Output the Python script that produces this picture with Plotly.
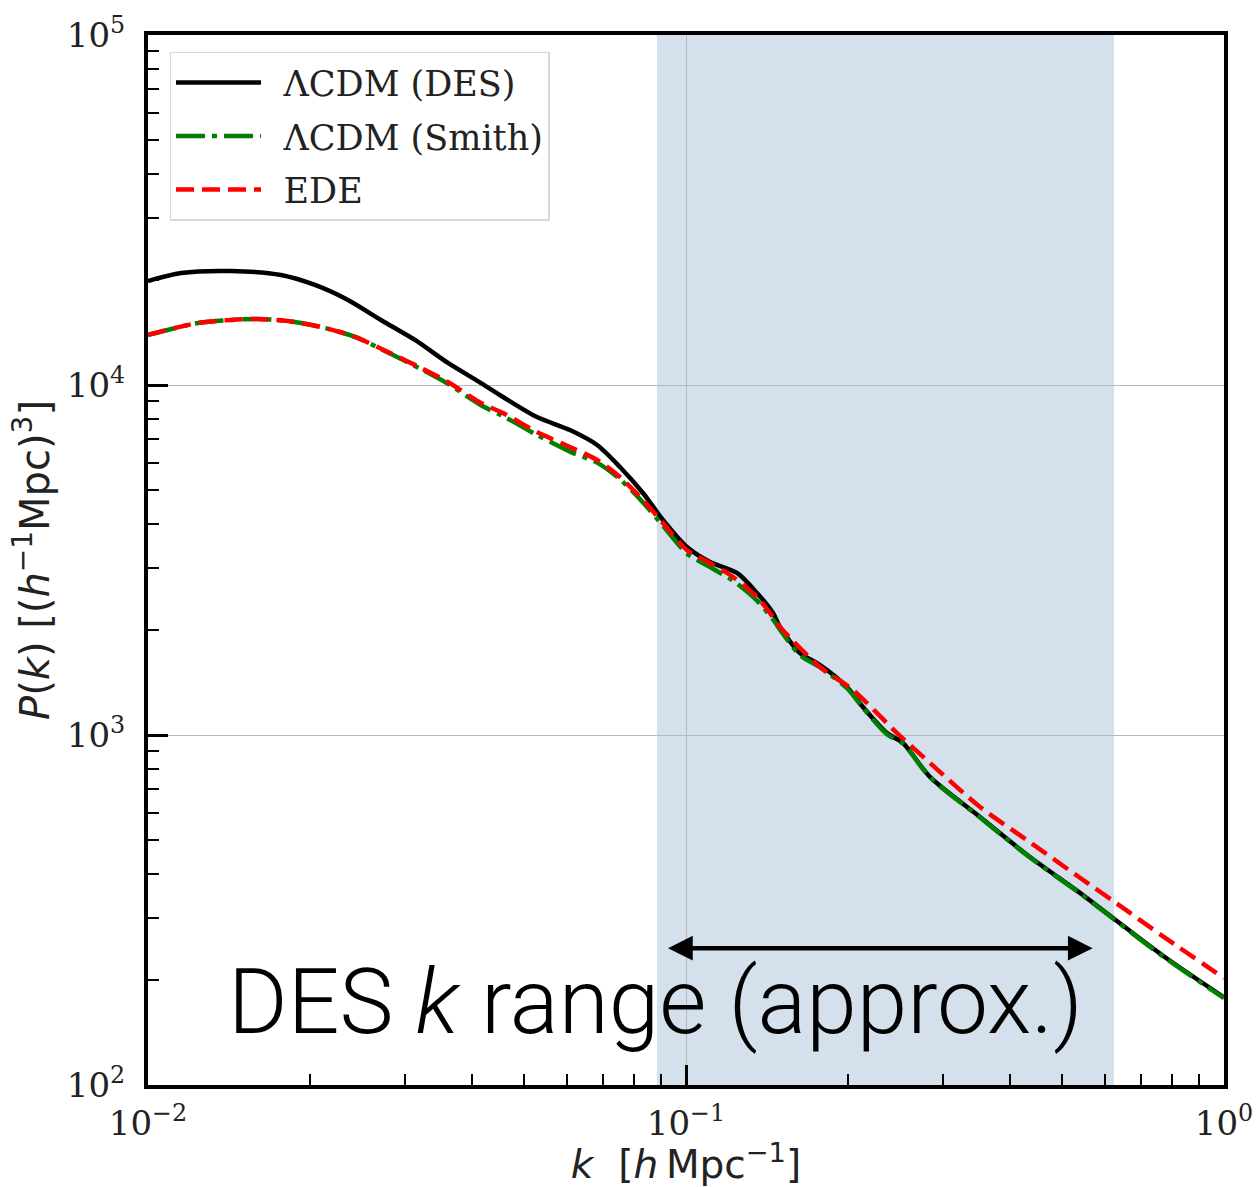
import numpy as np
import plotly.graph_objects as go

# Nonlinear matter power spectrum P(k) in (h^-1 Mpc)^3 versus k in h Mpc^-1
k_des = [0.0100, 0.01152, 0.01427, 0.01767, 0.02043, 0.02353, 0.02710, 0.03135,
         0.03610, 0.04159, 0.04570, 0.05284, 0.06086, 0.06834, 0.07537, 0.08318,
         0.09061, 0.1004, 0.1108, 0.1244, 0.1355, 0.1451, 0.1495, 0.1629, 0.1775,
         0.1992, 0.2133, 0.2363, 0.2531, 0.2841, 0.3520, 0.4358, 0.5398, 0.6218,
         0.7701, 1.0]
p_des = [19820, 20890, 21170, 20620, 19310, 17500, 15340, 13450,
         11560, 10130, 9240, 8101, 7435, 6740, 5832, 4914,
         4115, 3444, 3121, 2904, 2545, 2232, 2035, 1715, 1585,
         1371, 1202, 1013, 949, 759, 583, 448, 354, 300,
         234, 178]

k_smith = [0.0100, 0.01239, 0.01427, 0.01601, 0.01820, 0.02097, 0.02426, 0.02793,
           0.03217, 0.03610, 0.04159, 0.04570, 0.05284, 0.06086, 0.06834, 0.07537,
           0.08318, 0.09061, 0.1004, 0.1108, 0.1223, 0.1355, 0.1451, 0.1495, 0.1629,
           0.1775, 0.1992, 0.2133, 0.2363, 0.2531, 0.2841, 0.3520, 0.4358, 0.5398,
           0.6218, 0.7701, 1.0]
p_smith = [13900, 15040, 15340, 15440, 15230, 14640, 13720, 12380,
           11100, 10080, 8750, 8150, 7200, 6450, 6000, 5380,
           4620, 3960, 3300, 3020, 2760, 2420, 2140, 2000, 1690,
           1560, 1360, 1195, 1005, 945, 757, 581, 447, 353,
           299, 233, 177]

k_ede = [0.0100, 0.01239, 0.01427, 0.01601, 0.01820, 0.02097, 0.02426, 0.02793,
         0.03217, 0.03610, 0.04159, 0.04570, 0.05284, 0.06086, 0.06834, 0.07537,
         0.08318, 0.09061, 0.1004, 0.1108, 0.1223, 0.1355, 0.1451, 0.1495, 0.1775,
         0.2043, 0.2467, 0.2841, 0.3520, 0.4358, 0.5398, 0.6218, 0.7701, 1.0]
p_ede = [13900, 15040, 15340, 15440, 15230, 14640, 13720, 12430,
         11180, 10200, 8883, 8318, 7338, 6652, 6106, 5460,
         4692, 4035, 3378, 3100, 2828, 2480, 2173, 2035, 1564,
         1345, 1013, 832, 623, 494, 391, 336, 266, 202]

# Approximate DES k range (shaded band and arrow)
des_band = [0.0883, 0.6245]
des_arrow = [0.092, 0.57]
arrow_level = 246

x_major = [1e-2, 1e-1, 1e0]
x_major_text = ["10<sup>−2</sup>", "10<sup>−1</sup>", "10<sup>0</sup>"]
y_major = [1e2, 1e3, 1e4, 1e5]
y_major_text = ["10<sup>2</sup>", "10<sup>3</sup>", "10<sup>4</sup>", "10<sup>5</sup>"]

x_minor = [m * d for d in (1e-2, 1e-1) for m in range(2, 10)]
y_minor = [m * d for d in (1e2, 1e3, 1e4) for m in range(2, 10)]

serif = "DejaVu Serif"
sans = "DejaVu Sans"
pad = "\u2002"  # space between legend line and its label

fig = go.Figure()

fig.add_trace(go.Scatter(
    x=k_des, y=p_des, mode="lines", name=pad + "ΛCDM (DES)",
    line=dict(color="black", width=4.5, shape="spline", smoothing=0.8),
    legendgroup="a"))
fig.add_trace(go.Scatter(
    x=k_smith, y=p_smith, mode="lines", name=pad + "ΛCDM (Smith)",
    line=dict(color="green", width=4.5, dash="29px,7px,5px,7px",
              shape="spline", smoothing=0.8),
    legendgroup="b"))
fig.add_trace(go.Scatter(
    x=k_ede, y=p_ede, mode="lines", name=pad + "EDE",
    line=dict(color="red", width=4.5, dash="18px,8px",
              shape="spline", smoothing=0.8),
    legendgroup="c"))

fig.add_shape(type="rect", xref="x", yref="paper",
              x0=des_band[0], x1=des_band[1], y0=0, y1=1,
              fillcolor="#d4e0ec", line=dict(width=0), layer="below")

fig.add_annotation(
    x=np.log10(des_arrow[1]), y=np.log10(arrow_level),
    ax=np.log10(des_arrow[0]), ay=np.log10(arrow_level),
    xref="x", yref="y", axref="x", ayref="y",
    text="", showarrow=True, arrowside="end+start",
    arrowhead=2, startarrowhead=2, arrowsize=1.1, startarrowsize=1.1,
    arrowwidth=4.5, arrowcolor="black", standoff=0, startstandoff=0)

fig.add_annotation(
    x=0.472, y=0.079, xref="paper", yref="paper",
    text="DES <i>k</i> range (approx.)", showarrow=False,
    xanchor="center", yanchor="middle",
    font=dict(family="Roboto", size=91, color="black", weight=300))

axis_common = dict(
    type="log", showline=True, linecolor="black", linewidth=4, mirror=True,
    ticks="inside", ticklen=20, tickwidth=3, tickcolor="black",
    showgrid=True, gridcolor="#b8b8b8", gridwidth=1, zeroline=False,
    automargin=False,
    tickfont=dict(family=serif, size=34, color="#222222"),
)

fig.update_xaxes(
    **axis_common, range=[-2, 0], tickmode="array",
    tickvals=x_major, ticktext=x_major_text, ticklabelstandoff=5,
    minor=dict(tickmode="array", tickvals=x_minor, ticks="inside",
               ticklen=11, tickwidth=2, tickcolor="black", showgrid=False),
    title=dict(text="<i>k</i>\u00a0\u00a0[<i>h</i>\u2009Mpc<sup>−1</sup>]",
               font=dict(family=sans, size=39, color="#222222"), standoff=9))

fig.update_yaxes(
    **axis_common, range=[2, 5], tickmode="array",
    tickvals=y_major, ticktext=y_major_text, ticklabelstandoff=12,
    minor=dict(tickmode="array", tickvals=y_minor, ticks="inside",
               ticklen=11, tickwidth=2, tickcolor="black", showgrid=False),
    title=dict(text="<i>P</i>(<i>k</i>) [(<i>h</i><sup>−1</sup>Mpc)<sup>3</sup>]",
               font=dict(family=sans, size=40, color="#222222"), standoff=6))

fig.update_layout(
    width=1258, height=1187,
    margin=dict(l=148, r=34, t=35, b=102),
    plot_bgcolor="white", paper_bgcolor="white",
    font=dict(family=sans, color="#222222"),
    legend=dict(
        x=0.02, y=0.984, xanchor="left", yanchor="top",
        bgcolor="rgba(255,255,255,0.85)", bordercolor="#d8d8d8", borderwidth=1.5,
        font=dict(family=serif, size=35, color="#222222"),
        itemwidth=85, traceorder="grouped", tracegroupgap=5),
    showlegend=True,
)

fig.write_html("out.html")
